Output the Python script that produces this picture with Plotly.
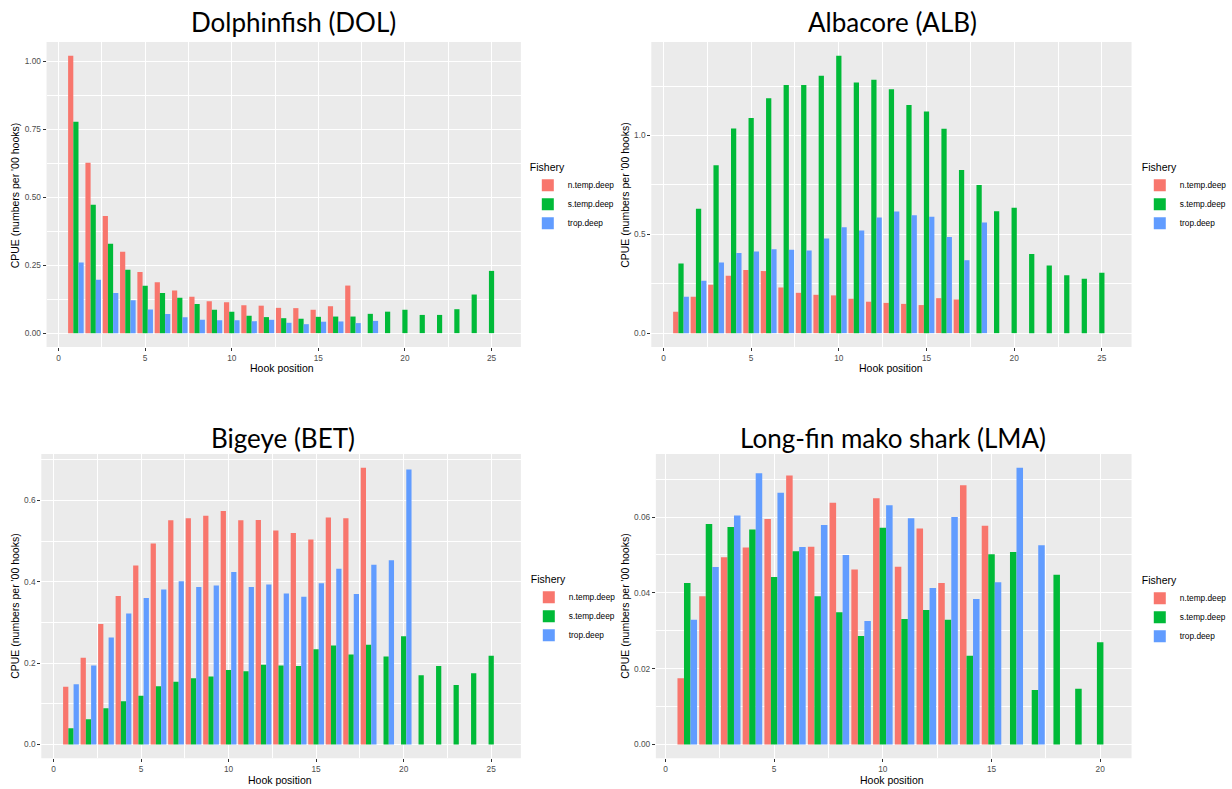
import plotly.graph_objects as go

# ---------------- data ----------------
HOOKS = list(range(1, 26))
SERIES = ["n.temp.deep", "s.temp.deep", "trop.deep"]
COLORS = ["#F8766D", "#00BA38", "#619CFF"]
TITLES = ["Dolphinfish (DOL)", "Albacore (ALB)", "Bigeye (BET)", "Long-fin mako shark (LMA)"]
X_TITLE = "Hook position"
Y_TITLE = "CPUE (numbers per '00 hooks)"
LEGEND_TITLE = "Fishery"

DOL_N = [1.020, 0.627, 0.431, 0.299, 0.225, 0.187, 0.157, 0.134, 0.117, 0.114, 0.103,
         0.101, 0.093, 0.092, 0.086, 0.099, 0.175]
DOL_S = [0.778, 0.472, 0.329, 0.233, 0.174, 0.148, 0.130, 0.107, 0.086, 0.079, 0.064,
         0.059, 0.055, 0.053, 0.060, 0.061, 0.061, 0.071, 0.079, 0.086, 0.067, 0.067,
         0.088, 0.142, 0.229]
DOL_T = [0.260, 0.196, 0.148, 0.121, 0.087, 0.070, 0.058, 0.049, 0.047, 0.047, 0.044,
         0.049, 0.038, 0.033, 0.042, 0.043, 0.037, 0.045]

ALB_N = [0.108, 0.184, 0.245, 0.290, 0.320, 0.314, 0.231, 0.204, 0.194, 0.191, 0.174,
         0.159, 0.153, 0.148, 0.142, 0.177, 0.170]
ALB_S = [0.352, 0.629, 0.850, 1.035, 1.089, 1.189, 1.255, 1.255, 1.302, 1.403, 1.268,
         1.282, 1.234, 1.155, 1.121, 1.034, 0.825, 0.749, 0.617, 0.634, 0.400, 0.342,
         0.293, 0.275, 0.305]
ALB_T = [0.184, 0.265, 0.358, 0.406, 0.413, 0.425, 0.422, 0.418, 0.479, 0.536, 0.519,
         0.585, 0.616, 0.597, 0.589, 0.486, 0.369, 0.560]

BET_N = [0.142, 0.213, 0.296, 0.365, 0.440, 0.494, 0.551, 0.556, 0.562, 0.574, 0.551,
         0.552, 0.526, 0.520, 0.504, 0.558, 0.556, 0.680]
BET_S = [0.040, 0.062, 0.089, 0.106, 0.120, 0.143, 0.154, 0.163, 0.167, 0.183, 0.180,
         0.196, 0.194, 0.193, 0.234, 0.243, 0.221, 0.245, 0.216, 0.266, 0.170, 0.193,
         0.146, 0.175, 0.218]
BET_T = [0.148, 0.194, 0.263, 0.322, 0.360, 0.381, 0.401, 0.387, 0.391, 0.424, 0.387,
         0.393, 0.371, 0.363, 0.396, 0.432, 0.370, 0.442, 0.453, 0.676]

LMA_N = [0.0175, 0.0391, 0.0494, 0.0520, 0.0595, 0.0710, 0.0522, 0.0638, 0.0462, 0.0650,
         0.0469, 0.0570, 0.0426, 0.0684, 0.0577]
LMA_S = [0.0426, 0.0582, 0.0574, 0.0567, 0.0442, 0.0510, 0.0391, 0.0349, 0.0286, 0.0572,
         0.0331, 0.0355, 0.0329, 0.0234, 0.0502, 0.0508, 0.0144, 0.0448, 0.0147, 0.0270]
LMA_T = [0.0329, 0.0468, 0.0604, 0.0716, 0.0664, 0.0521, 0.0579, 0.0500, 0.0326, 0.0631,
         0.0597, 0.0413, 0.0600, 0.0384, 0.0428, 0.0730, 0.0526]

PANELS = [
    (DOL_N, DOL_S, DOL_T),
    (ALB_N, ALB_S, ALB_T),
    (BET_N, BET_S, BET_T),
    (LMA_N, LMA_S, LMA_T),
]
Y_DTICK = [0.25, 0.5, 0.2, 0.02]
Y_FORMAT = [".2f", ".1f", ".1f", ".2f"]

# ---------------- layout geometry (pixels) ----------------
W, H = 1232, 789
PANEL_PX = [  # x0, x1, y0(top), y1(bottom)
    (47, 526, 42, 347),
    (657.7, 1142.7, 42, 347),
    (41.7, 526, 454, 758.3),
    (662.3, 1142.7, 454, 758.3),
]
TITLE_PX = [(296, 22), (901, 22), (286, 438), (902, 438)]
XTITLE_PX = [(285, 368), (900, 368), (283, 780), (901, 780)]
YTITLE_PX = [(15.5, 195), (631, 195), (15, 606), (631, 606)]
LEGEND_PX = [(533, 157), (1151, 157), (534, 569), (1151, 570)]


def px(x):
    return x / W


def py(y):
    return 1 - y / H


FONT = "Liberation Sans"
fig = go.Figure()

for i, (vals, (x0, x1, y0, y1)) in enumerate(zip(PANELS, PANEL_PX)):
    sfx = "" if i == 0 else str(i + 1)
    leg = "legend" + sfx
    n_hooks = max(len(v) for v in vals)
    for name, color, v in zip(SERIES, COLORS, vals):
        fig.add_trace(go.Bar(
            x=HOOKS[:len(v)], y=v, name=name,
            marker=dict(color=color, line=dict(width=0)),
            xaxis="x" + sfx, yaxis="y" + sfx, legend=leg,
        ))
    # ggplot-style expanded ranges
    lo, hi = 1 - 0.45, n_hooks + 0.45
    span = hi - lo
    xr = [lo - 0.05 * span, hi + 0.05 * span]
    ymax = max(max(v) for v in vals)
    yr = [-0.05 * ymax, ymax * 1.05]

    common = dict(
        showline=False, zeroline=False, showgrid=True, gridcolor="white", gridwidth=1.1,
        ticks="outside", ticklen=3, tickwidth=1, tickcolor="#333333",
        tickfont=dict(family=FONT, size=8.3, color="#4D4D4D"),
    )
    fig.layout["xaxis" + sfx] = dict(
        domain=[px(x0), px(x1)], anchor="y" + sfx, range=xr,
        tick0=0, dtick=5,
        minor=dict(dtick=2.5, showgrid=True, gridcolor="white", gridwidth=0.5, ticklen=0),
        **common)
    fig.layout["yaxis" + sfx] = dict(
        domain=[py(y1), py(y0)], anchor="x" + sfx, range=yr,
        tick0=0, dtick=Y_DTICK[i], tickformat=Y_FORMAT[i],
        minor=dict(dtick=Y_DTICK[i] / 2, showgrid=True, gridcolor="white", gridwidth=0.5, ticklen=0),
        **common)

    lx, ly = LEGEND_PX[i]
    fig.layout[leg] = dict(
        x=px(lx), y=py(ly), xanchor="left", yanchor="top",
        bgcolor="rgba(0,0,0,0)", borderwidth=0, itemwidth=30,
        title=dict(text=LEGEND_TITLE, font=dict(family=FONT, size=10.5, color="black")),
        font=dict(family=FONT, size=8.3, color="black"),
        itemclick=False, itemdoubleclick=False,
    )

    # plot background as a shape behind the panel
    fig.add_shape(type="rect", xref="x" + sfx + " domain", yref="y" + sfx + " domain",
                  x0=0, x1=1, y0=0, y1=1, fillcolor="#EBEBEB", line=dict(width=0),
                  layer="below")

    tx, ty = TITLE_PX[i]
    fig.add_annotation(text=TITLES[i], x=px(tx), y=py(ty), xref="paper", yref="paper",
                       showarrow=False, xanchor="center", yanchor="middle",
                       font=dict(family="Lato", size=26, color="black"))
    ax, ay = XTITLE_PX[i]
    fig.add_annotation(text=X_TITLE, x=px(ax), y=py(ay), xref="paper", yref="paper",
                       showarrow=False, xanchor="center", yanchor="middle",
                       font=dict(family=FONT, size=10.5, color="black"))
    bx, by = YTITLE_PX[i]
    fig.add_annotation(text=Y_TITLE, x=px(bx), y=py(by), xref="paper", yref="paper",
                       showarrow=False, xanchor="center", yanchor="middle", textangle=-90,
                       font=dict(family=FONT, size=10.5, color="black"))

fig.update_layout(
    width=W, height=H, margin=dict(l=0, r=0, t=0, b=0),
    paper_bgcolor="white", plot_bgcolor="rgba(0,0,0,0)",
    barmode="group", bargap=0.1, bargroupgap=0,
    showlegend=True,
)

fig.write_html("out.html")
